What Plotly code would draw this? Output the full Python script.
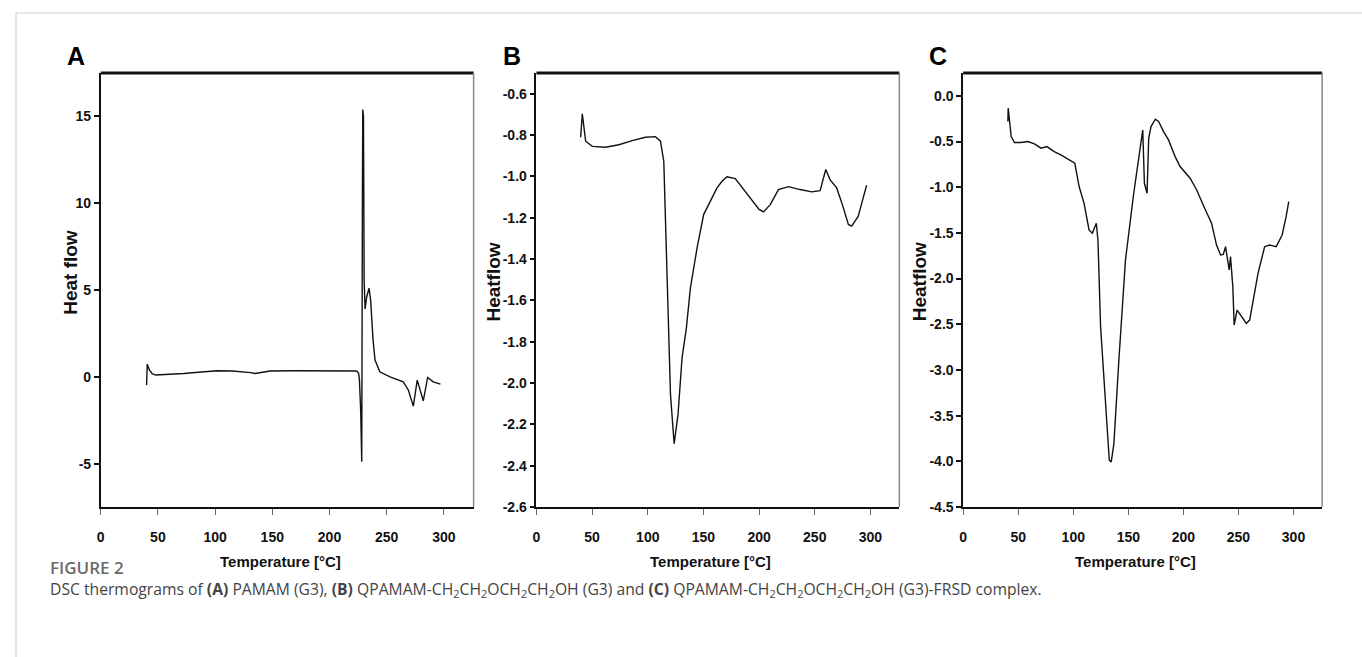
import plotly.graph_objects as go

# ---------------- data ----------------
tempA = [40.1, 40.7, 42.5, 45.0, 48.0, 60.0, 72.7, 88.0, 101.7, 115.0, 125.0, 131.0, 135.0,
         140.0, 148.0, 168.6, 190.0, 210.0, 223.8, 225.5, 226.2, 227.3, 228.2,
         228.8, 229.1, 229.7, 230.3, 231.1, 232.5, 234.6, 236.0, 238.0, 239.8, 244.0, 252.9,
         264.5, 269.0, 273.3, 276.7, 282.0, 285.8, 290.7, 297.0]
heatA = [-0.48, 0.73, 0.40, 0.18, 0.10, 0.14, 0.19, 0.28, 0.35, 0.33, 0.29, 0.24, 0.19,
         0.25, 0.33, 0.35, 0.34, 0.33, 0.33, 0.20, -0.19, -2.0, -4.9,
         10.9, 15.4, 15.0, 5.6, 3.9, 4.6, 5.1, 4.4, 2.2, 0.96, 0.29, 0.0,
         -0.29, -0.77, -1.69, -0.19, -1.38, -0.04, -0.29, -0.42]

tempB = [39.7, 41.2, 44.2, 50.2, 62.1, 74.1, 86.0, 98.0, 106.9, 111.4, 114.4, 117.4, 120.4,
         123.7, 127.2, 130.8, 134.7, 138.3, 144.3, 150.2, 156.2, 162.2, 166.5, 171.1, 178.6,
         186.0, 195.0, 200.0, 204.0, 210.0, 217.4, 226.4, 236.9, 247.3, 254.8, 259.9, 263.7,
         269.7, 274.8, 280.2, 283.2, 289.1, 292.7, 296.6]
heatB = [-0.811, -0.698, -0.830, -0.855, -0.859, -0.847, -0.827, -0.811, -0.808, -0.830,
         -0.927, -1.443, -2.055, -2.294, -2.152, -1.878, -1.733, -1.540, -1.346, -1.185,
         -1.120, -1.056, -1.025, -1.002, -1.011, -1.064, -1.129, -1.160, -1.172, -1.137,
         -1.064, -1.050, -1.064, -1.075, -1.069, -0.967, -1.016, -1.056, -1.137, -1.233,
         -1.241, -1.193, -1.120, -1.043]

tempC = [40.6, 40.9, 43.6, 46.6, 52.6, 58.7, 64.7, 70.7, 76.1, 82.7, 88.7, 96.3, 101.4,
         105.3, 109.8, 114.3, 117.3, 120.9, 122.4, 124.8, 128.5, 132.7, 134.5, 136.9, 141.4,
         147.4, 154.9, 160.4, 163.1, 164.6, 167.0, 168.5, 170.6, 174.5, 177.5, 182.0, 186.5,
         192.5, 197.0, 206.1, 212.1, 218.7, 225.6, 230.1, 233.8, 236.2, 238.3, 241.6, 242.8,
         244.9, 246.1, 248.8, 252.7, 257.2, 260.2, 263.2, 267.8, 273.8, 278.3, 284.3, 289.7,
         293.3, 295.7]
heatC = [-0.28, -0.135, -0.446, -0.511, -0.511, -0.50, -0.526, -0.573, -0.555, -0.61, -0.646,
         -0.701, -0.738, -0.993, -1.176, -1.468, -1.505, -1.395, -1.578, -2.527, -3.258,
         -3.988, -4.006, -3.806, -2.893, -1.797, -1.066, -0.628, -0.373, -0.957, -1.066,
         -0.464, -0.336, -0.256, -0.281, -0.391, -0.482, -0.665, -0.774, -0.902, -1.03,
         -1.213, -1.395, -1.633, -1.742, -1.735, -1.651, -1.906, -1.76, -2.089, -2.509,
         -2.345, -2.418, -2.491, -2.454, -2.235, -1.943, -1.651, -1.633, -1.651, -1.523,
         -1.322, -1.158]

xTicks = [0, 50, 100, 150, 200, 250, 300]
yTicksA = [-5, 0, 5, 10, 15]
yTicksB = [-2.6, -2.4, -2.2, -2.0, -1.8, -1.6, -1.4, -1.2, -1.0, -0.8, -0.6]
yTicksC = [-4.5, -4.0, -3.5, -3.0, -2.5, -2.0, -1.5, -1.0, -0.5, 0.0]

panelLetters = ["A", "B", "C"]
yTitles = ["Heat flow", "Heatflow", "Heatflow"]
xTitle = "Temperature [°C]"
figLabel = "FIGURE 2"
caption = ("DSC thermograms of <b>(A)</b> PAMAM (G3), <b>(B)</b> QPAMAM-CH<sub>2</sub>CH<sub>2</sub>"
           "OCH<sub>2</sub>CH<sub>2</sub>OH (G3) and <b>(C)</b> QPAMAM-CH<sub>2</sub>CH<sub>2</sub>"
           "OCH<sub>2</sub>CH<sub>2</sub>OH (G3)-FRSD complex.")

# ---------------- figure ----------------
W, H = 1362, 657
HE = 649  # effective rendered height used for vertical placement
TICKFONT = "Liberation Sans, Arial, sans-serif"

def py(v):
    return 1 - v / HE

fig = go.Figure()
series = [(tempA, heatA), (tempB, heatB), (tempC, heatC)]
for i, (xs, ys) in enumerate(series):
    fig.add_trace(go.Scatter(x=xs, y=ys, mode="lines",
                             line=dict(color="#111111", width=1.4),
                             xaxis="x" if i == 0 else f"x{i+1}",
                             yaxis="y" if i == 0 else f"y{i+1}",
                             showlegend=False, hoverinfo="skip"))

# panel box pixel positions (left, right), top/bottom
boxes = [(97, 471), (534, 898), (962, 1322)]
top_px, bot_px = 73, 507
ydom = [py(bot_px), py(top_px)]

yticks = [(yTicksA, 0, [-7.5, 17.5]), (yTicksB, 1, [-2.6, -0.5]), (yTicksC, 1, [-4.5, 0.25])]

layout = dict(width=W, height=H, margin=dict(l=0, r=0, t=0, b=0),
              paper_bgcolor="white", plot_bgcolor="white", autosize=False)

for i, ((l, r), (tv, dec, yr)) in enumerate(zip(boxes, yticks)):
    xk = "xaxis" if i == 0 else f"xaxis{i+1}"
    yk = "yaxis" if i == 0 else f"yaxis{i+1}"
    xa = "x" if i == 0 else f"x{i+1}"
    ya = "y" if i == 0 else f"y{i+1}"
    layout[xk] = dict(domain=[l / W, r / W], range=[0, 326], anchor=ya,
                      showgrid=False, zeroline=False, showline=True,
                      linecolor="#111111", linewidth=1.6,
                      ticks="outside", ticklen=6, tickwidth=1.2, tickcolor="#666666",
                      ticklabelstandoff=10,
                      tickvals=xTicks, ticktext=[str(v) for v in xTicks],
                      tickfont=dict(family=TICKFONT, size=14, color="#111111", weight="bold"),
                      fixedrange=True)
    layout[yk] = dict(domain=ydom, range=yr, anchor=xa,
                      showgrid=False, zeroline=False, showline=True,
                      linecolor="#111111", linewidth=1.6,
                      ticks="outside", ticklen=5, tickwidth=1.6, tickcolor="#111111",
                      tickvals=tv, ticktext=[f"{v:.{dec}f}" for v in tv],
                      tickfont=dict(family=TICKFONT, size=14, color="#111111", weight="bold"),
                      fixedrange=True)

fig.update_layout(**layout)

shapes = []
annotations = []
for i, (l, r) in enumerate(boxes):
    xa = "x" if i == 0 else f"x{i+1}"
    ya = "y" if i == 0 else f"y{i+1}"
    # thick top frame
    shapes.append(dict(type="line", xref=f"{xa} domain", yref=f"{ya} domain",
                       x0=0, x1=1, y0=1, y1=1, line=dict(color="#111111", width=3)))
    # thin grey right frame
    shapes.append(dict(type="line", xref=f"{xa} domain", yref=f"{ya} domain",
                       x0=1, x1=1, y0=0, y1=1, line=dict(color="#888888", width=1.5)))
    # panel letter
    annotations.append(dict(text=f"<b>{panelLetters[i]}</b>", xref="paper", yref="paper",
                            x=(l - 36) / W, y=py(56), xanchor="left", yanchor="middle",
                            showarrow=False,
                            font=dict(family="Liberation Sans, Arial, sans-serif", size=25, color="#000000")))
    # x title
    annotations.append(dict(text=f"<b>{xTitle}</b>", xref="paper", yref="paper",
                            x=((l + r) / 2 - 7) / W, y=py(561), xanchor="center", yanchor="middle",
                            showarrow=False,
                            font=dict(family="Liberation Sans, Arial, sans-serif", size=15, color="#111111")))
    # y title
    annotations.append(dict(text=f"<b>{yTitles[i]}</b>", xref="paper", yref="paper",
                            x=(l - (31 if i == 0 else 44)) / W, y=py(272 if i == 0 else 282),
                            xanchor="center", yanchor="middle", textangle=-90,
                            showarrow=False,
                            font=dict(family="Liberation Sans, Arial, sans-serif", size=19, color="#111111")))

# page frame lines
shapes.append(dict(type="line", xref="paper", yref="paper", x0=12 / W, x1=1, y0=py(13), y1=py(13),
                   line=dict(color="#d0d0d0", width=1.2)))
shapes.append(dict(type="line", xref="paper", yref="paper", x0=12 / W, x1=12 / W, y0=-0.02, y1=py(13),
                   line=dict(color="#d0d0d0", width=1.2)))

annotations.append(dict(text=figLabel, xref="paper", yref="paper", x=44 / W, y=py(567),
                        xanchor="left", yanchor="middle", showarrow=False,
                        font=dict(family="Open Sans, Noto Sans, sans-serif", size=17, color="#6a6a6a", weight=600)))
annotations.append(dict(text=caption, xref="paper", yref="paper", x=44 / W, y=py(589),
                        xanchor="left", yanchor="middle", showarrow=False,
                        font=dict(family="Open Sans, Noto Sans, sans-serif", size=15.7, color="#444444")))

fig.update_layout(shapes=shapes, annotations=annotations)
fig.write_html("out.html", config={"displayModeBar": False},
               post_script="document.body.style.margin='0';"
                           "document.body.style.overflow='hidden';"
                           "document.documentElement.style.overflow='hidden';")
